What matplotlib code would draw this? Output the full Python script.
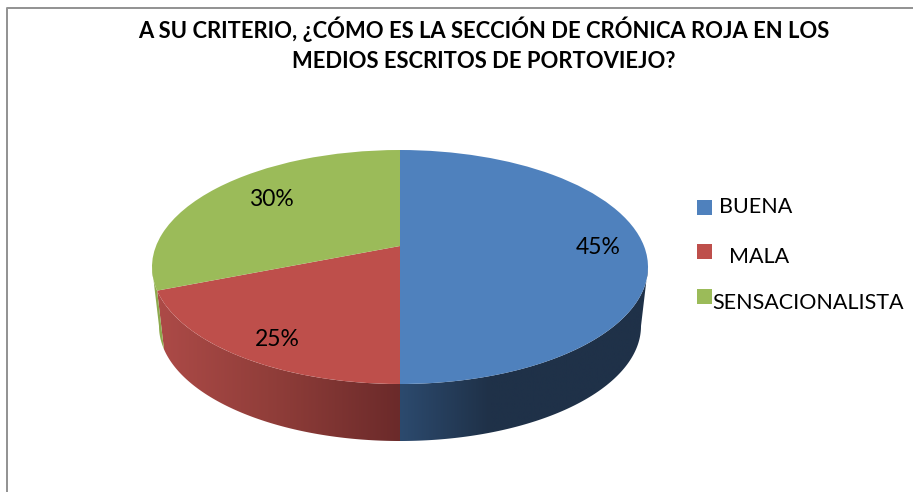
"""Recreate the 3D-looking pie chart about the cronica roja section."""

import numpy as np
import matplotlib
matplotlib.use("Agg")
import matplotlib.pyplot as plt
from matplotlib.colors import LinearSegmentedColormap
from matplotlib.lines import Line2D
from matplotlib.patches import Polygon, Rectangle
from matplotlib.transforms import Transform

W, H = 913, 492
FONT = "Lato"

TITLE = "A SU CRITERIO, ¿CÓMO ES LA SECCIÓN DE CRÓNICA ROJA EN LOS\nMEDIOS ESCRITOS DE PORTOVIEJO?"
categories = ["BUENA", "MALA", "SENSACIONALISTA"]
# the slices as drawn do not follow the printed percentages
slice_sizes = [50, 19, 31]
printed_labels = ["45%", "25%", "30%"]
colors = ["#4F81BD", "#BE4F4B", "#9BBB59"]

CX, CY, RX, RY = 400, 267, 248, 117
APEX_Y = 246
BOTTOM_CY, BOTTOM_RX, BOTTOM_RY = 326, 241, 115
K = (CY - APEX_Y) / RY
WALL_LIMIT = np.degrees(np.arcsin(K))
LOWER = -1.6


def fx(px):
    return px / W


def fy(py):
    return 1 - py / H


def project(u, v):
    # perspective of the unit circle: the centre lands on the apex, rim stays an ellipse
    w = 1 + K * v
    return np.sqrt(1 - K**2) * u / w, (v + K) / w


class Perspective(Transform):
    input_dims = 2
    output_dims = 2
    is_affine = False

    def transform_non_affine(self, values):
        values = np.asarray(values)
        x, y = project(values[:, 0], values[:, 1])
        return np.column_stack([x, y])


def draw_wall(ax, start, end, shade):
    low = max(min(start, end), -180 + WALL_LIMIT)
    high = min(max(start, end), -WALL_LIMIT)
    if low >= high:
        return
    th = np.radians(np.linspace(low, high, 200))
    x, y = project(np.cos(th), np.sin(th))
    bottom_x = x * BOTTOM_RX / RX
    bottom_y = y * BOTTOM_RY / RY - (BOTTOM_CY - CY) / RY
    outline = np.column_stack([np.r_[x, bottom_x[::-1]], np.r_[y, bottom_y[::-1]]])
    clip = Polygon(outline, closed=True, transform=ax.transData, facecolor="none", edgecolor="none")
    ax.add_patch(clip)
    cmap = LinearSegmentedColormap.from_list("wall", shade)
    im = ax.imshow(np.linspace(-1, 1, 256).reshape(1, -1), cmap=cmap, vmin=-1, vmax=1,
                   extent=(-1, 1, LOWER, 1), aspect="auto", zorder=0.5)
    im.set_clip_path(clip)


def main():
    fig = plt.figure(figsize=(W / 100, H / 100), dpi=100, facecolor="white")
    height = (1 - LOWER) * RY
    ax = fig.add_axes([fx(CX - RX), fy(CY - RY + height), 2 * RX / W, height / H])
    wedges, _ = ax.pie(slice_sizes, colors=colors, startangle=90, counterclock=False, radius=1)
    for wedge in wedges:
        wedge.set_transform(Perspective() + ax.transData)
        wedge.set_clip_on(False)

    edges = 90 - np.cumsum([0] + slice_sizes) * 3.6
    # colour stops run from the left of the pie (0) to the right (1), centre at 0.5
    wall_shades = [
        [(0, "#2C4A6E"), (0.5, "#2C4A6E"), (0.68, "#1F3148"), (1, "#1F3148")],
        [(0, "#AE4B48"), (0.25, "#8F3D39"), (0.5, "#6B2A2A"), (1, "#6B2A2A")],
        [(0, "#8DAA4E"), (1, "#8DAA4E")],
    ]
    for i in range(len(slice_sizes)):
        draw_wall(ax, edges[i], edges[i + 1], wall_shades[i])

    ax.set_aspect("auto")
    ax.set_xlim(-1, 1)
    ax.set_ylim(LOWER, 1)

    # left and top border of the chart frame
    fig.add_artist(Line2D([fx(7), fx(7), 1], [0, fy(8.3), fy(8.3)], color="#949494", linewidth=1.44))

    fig.text(fx(484), fy(44), TITLE, ha="center", va="center", fontsize=15.8,
             fontweight="bold", family=FONT, color="black", linespacing=1.5)

    for label, (px, py) in zip(printed_labels, [(598, 247), (277, 339), (271, 199)]):
        fig.text(fx(px), fy(py), label, ha="center", va="center", fontsize=16.5,
                 family=FONT, color="black")

    legend_boxes = [200, 244, 289]
    legend_text = [(719, 207), (729, 257), (712, 303)]
    for i, name in enumerate(categories):
        fig.add_artist(Rectangle((fx(697), fy(legend_boxes[i] + 15)), 15 / W, 15 / H,
                                 facecolor=colors[i], edgecolor="none",
                                 transform=fig.transFigure))
        fig.text(fx(legend_text[i][0]), fy(legend_text[i][1]), name, ha="left", va="center",
                 fontsize=15.5, family=FONT, color="black")

    fig.savefig("out.png", dpi=100)
    plt.close(fig)


if __name__ == "__main__":
    main()
